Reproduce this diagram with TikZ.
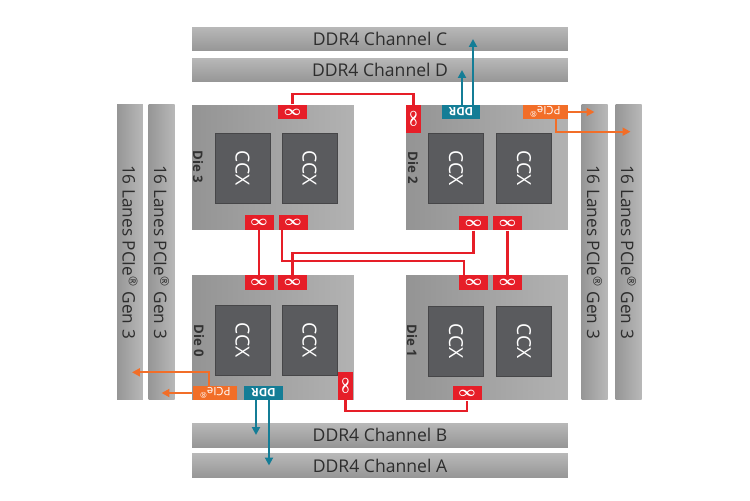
\documentclass[tikz,border=0pt]{standalone}
\usepackage{amsmath}
\usepackage{fontspec}
\setmainfont{Open Sans}
\usepackage{graphicx}
\usepackage{tikz}
\usetikzlibrary{arrows.meta, positioning, calc}

\definecolor{ifred}{RGB}{230,30,40}
\definecolor{ddrteal}{RGB}{20,125,150}
\definecolor{pcieorange}{RGB}{242,110,40}
\definecolor{ccxgray}{RGB}{90,91,94}
\definecolor{ccxedge}{RGB}{70,70,72}
\definecolor{dieleft}{RGB}{148,148,148}
\definecolor{dieright}{RGB}{178,178,178}
\definecolor{barlight}{RGB}{184,184,184}
\definecolor{bardark}{RGB}{150,150,150}
\definecolor{bartext}{RGB}{45,45,45}
\definecolor{labelgray}{RGB}{50,50,50}

\begin{document}
\begin{tikzpicture}[x=0.02cm, y=-0.02cm,
  die/.style={left color=dieleft, right color=dieright, minimum width=3.24cm, minimum height=2.5cm, inner sep=0pt},
  ccx/.style={fill=ccxgray, draw=ccxedge, minimum width=1.1cm, minimum height=1.4cm, inner sep=0pt, text=white, font=\fontsize{11}{12}\selectfont},
  dielabel/.style={text=labelgray, inner sep=0pt, font=\fontsize{7.5}{8}\selectfont\bfseries},
  inf/.style={fill=ifred, text=white, minimum width=0.58cm, minimum height=0.29cm, inner sep=0pt, font=\fontsize{8}{9}\selectfont},
  infv/.style={inf, minimum width=0.3cm, minimum height=0.56cm},
  ddrport/.style={fill=ddrteal, text=white, minimum width=0.77cm, minimum height=0.28cm, inner sep=0pt, font=\fontsize{6.5}{7}\selectfont\bfseries},
  pcieport/.style={fill=pcieorange, text=white, minimum width=0.9cm, minimum height=0.28cm, inner sep=0pt, font=\fontsize{6.5}{7}\selectfont},
  ddrbar/.style={top color=barlight, bottom color=bardark, minimum width=7.52cm, minimum height=0.48cm, inner sep=0pt, text=bartext, font=\fontsize{10}{12}\selectfont},
  pciebar/.style={left color=bardark, right color=barlight, minimum width=0.52cm, minimum height=5.92cm, inner sep=0pt, text=bartext, font=\fontsize{9.8}{11}\selectfont},
  fabric/.style={ifred, line width=1.2pt},
  memlink/.style={ddrteal, line width=1.2pt, -{Triangle[length=4.5pt,width=4.5pt]}},
  iolink/.style={pcieorange, line width=1.2pt, -{Triangle[length=4.5pt,width=4.5pt]}}
]
  \useasboundingbox (0,0) rectangle (750,500);

  % Memory channels
  \node[ddrbar] (chC) at (380,39) {DDR4 Channel C};
  \node[ddrbar] (chD) at (380,70) {DDR4 Channel D};
  \node[ddrbar] (chB) at (380,435) {DDR4 Channel B};
  \node[ddrbar] (chA) at (380,465.5) {DDR4 Channel A};

  % PCIe lanes
  \node[pciebar] (pL1) at (130,252) {\rotatebox{-90}{16 Lanes PCIe\textsuperscript{®} Gen 3}};
  \node[pciebar] (pL2) at (161.5,252) {\rotatebox{-90}{16 Lanes PCIe\textsuperscript{®} Gen 3}};
  \node[pciebar] (pR1) at (594.5,252) {\rotatebox{-90}{16 Lanes PCIe\textsuperscript{®} Gen 3}};
  \node[pciebar] (pR2) at (628.5,252) {\rotatebox{-90}{16 Lanes PCIe\textsuperscript{®} Gen 3}};

  % Dies
  \node[die] (d3) at (273,167.5) {};
  \node[die] (d2) at (487,167.5) {};
  \node[die] (d0) at (273,337.5) {};
  \node[die] (d1) at (487,337.5) {};
  \node[dielabel] (l3) at (198,167) {\rotatebox{-90}{Die 3}};
  \node[dielabel] (l2) at (413,168) {\rotatebox{-90}{Die 2}};
  \node[dielabel] (l0) at (199,341) {\rotatebox{-90}{Die 0}};
  \node[dielabel] (l1) at (412,341) {\rotatebox{-90}{Die 1}};

  % Core complexes
  \foreach \n/\x/\y in {c3a/242.5/168, c3b/309.5/168, c2a/456/168, c2b/524/168,
                        c0a/242.5/340.5, c0b/309.5/340.5, c1a/456/341, c1b/524/341}
    \node[ccx] (\n) at (\x,\y) {\rotatebox{-90}{CCX}};

  % Infinity fabric ports
  \node[inf] (i3t) at (292.5,112) {$\boldsymbol{\infty}$};
  \node[inf] (i3a) at (259,222.5) {$\boldsymbol{\infty}$};
  \node[inf] (i3b) at (293,222.5) {$\boldsymbol{\infty}$};
  \node[infv] (i2v) at (413.5,119) {\rotatebox{90}{$\boldsymbol{\infty}$}};
  \node[inf] (i2a) at (473.5,223) {$\boldsymbol{\infty}$};
  \node[inf] (i2b) at (507.5,223) {$\boldsymbol{\infty}$};
  \node[inf] (i0a) at (259,282.5) {$\boldsymbol{\infty}$};
  \node[inf] (i0b) at (292.5,282.5) {$\boldsymbol{\infty}$};
  \node[infv] (i0v) at (345.5,386) {\rotatebox{90}{$\boldsymbol{\infty}$}};
  \node[inf] (i1a) at (473.5,282.5) {$\boldsymbol{\infty}$};
  \node[inf] (i1b) at (507.5,282.5) {$\boldsymbol{\infty}$};
  \node[inf] (i1c) at (467,393) {$\boldsymbol{\infty}$};

  % Memory and IO ports
  \node[ddrport] (ddr2) at (461,112) {\rotatebox{180}{DDR}};
  \node[pcieport] (pcie2) at (545,112) {\rotatebox{180}{PCIe\textsuperscript{®}}};
  \node[ddrport] (ddr0) at (263.5,393) {\rotatebox{180}{DDR}};
  \node[pcieport] (pcie0) at (215,393) {\rotatebox{180}{PCIe\textsuperscript{®}}};

  % Fabric links
  \draw[fabric] (i3t.north) -- ++(0,-10) -| (i2v.north);
  \draw[fabric] (i3a.south) -- (i0a.north);
  \draw[fabric] ($(i3b.south)+(-11,0)$) -- ++(0,31) -| ($(i1a.north)+(-9.5,0)$);
  \draw[fabric] (i2a.south) -- ++(0,22) -| (i0b.north);
  \draw[fabric] (i2b.south) -- (i1b.north);
  \draw[fabric] (i0v.south) -- ++(0,11) -| (i1c.south);

  % Memory links
  \coordinate (m2d) at ($(ddr2.north)+(1,0)$);
  \coordinate (m2c) at ($(ddr2.north)+(12,0)$);
  \coordinate (m0b) at ($(ddr0.south)+(-7.5,0)$);
  \coordinate (m0a) at ($(ddr0.south)+(5.5,0)$);
  \draw[memlink] (m2d) -- (m2d |- chD);
  \draw[memlink] (m2c) -- (m2c |- chC);
  \draw[memlink] (m0b) -- (m0b |- chB);
  \draw[memlink] (m0a) -- (m0a |- chA);

  % PCIe links
  \draw[iolink] (pcie2.east) -- (pcie2.east -| pR1);
  \draw[iolink] ($(pcie2.south)+(11,0)$) |- ($(pR2.north)+(2,28)$);
  \draw[iolink] (pcie0.west) -- (pcie0.west -| pL2);
  \draw[iolink] ($(pcie0.north)+(-6,0)$) |- ($(pL1.south)+(2,-28)$);
\end{tikzpicture}
\end{document}
